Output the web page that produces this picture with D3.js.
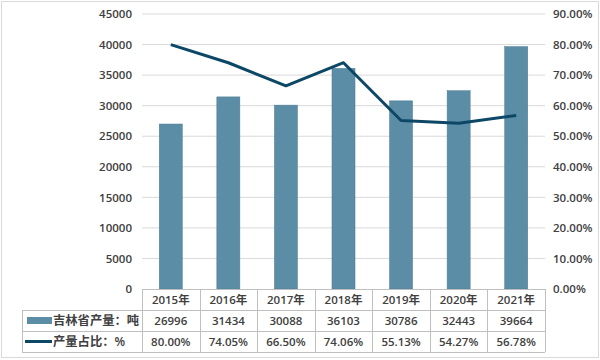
<!DOCTYPE html>
<html><head><meta charset="utf-8">
<script src="https://cdn.jsdelivr.net/npm/d3@7"></script>
<style>body{margin:0;background:#fff}svg{display:block}</style>
</head><body><svg id="c" width="600" height="360"></svg>
<script>
const years = ["2015年","2016年","2017年","2018年","2019年","2020年","2021年"];
const output = [26996,31434,30088,36103,30786,32443,39664];
const share = [80.00,74.05,66.50,74.06,55.13,54.27,56.78];
const leftTicks = [0,5000,10000,15000,20000,25000,30000,35000,40000,45000];
const rightTicks = [0,10,20,30,40,50,60,70,80,90];
const barName = "吉林省产量：吨", lineName = "产量占比：%";

const svg = d3.select("#c");
const L = 142, R = 545, T = 14, B = 289;
const font = "'Open Sans','Noto Sans CJK SC',sans-serif";
const txt = "#404040";
const barColor = "#5b8ea6", lineColor = "#0d4766";

svg.append("rect").attr("x",1.5).attr("y",1.5).attr("width",597).attr("height",356)
  .attr("fill","#fff").attr("stroke","#d9d9d9");

const x = d3.scaleBand().domain(years).range([L,R]).paddingInner(0.6).paddingOuter(0.3);
const xc = d3.scaleBand().domain(years).range([L,R]);
const y = d3.scaleLinear().domain([0,45000]).range([B,T]);
const y2 = d3.scaleLinear().domain([0,90]).range([B,T]);

// grid
svg.append("g").selectAll("line").data(leftTicks.slice(1)).join("line")
  .attr("x1",L).attr("x2",R).attr("y1",d=>y(d)).attr("y2",d=>y(d))
  .attr("stroke","#d9d9d9").attr("stroke-width",1);

// axes
const ga = svg.append("g").attr("transform",`translate(${L-10},0)`)
  .call(d3.axisLeft(y).tickValues(leftTicks).tickSize(0).tickPadding(0).tickFormat(d3.format("d")));
ga.select(".domain").remove();
ga.selectAll("text").attr("font-family",font).attr("font-size",11.5).attr("font-weight",600).attr("fill",txt);

const gb = svg.append("g").attr("transform",`translate(${R+8},0)`)
  .call(d3.axisRight(y2).tickValues(rightTicks).tickSize(0).tickPadding(0).tickFormat(d=>d.toFixed(2)+"%"));
gb.select(".domain").remove();
gb.selectAll("text").attr("font-family",font).attr("font-size",11.5).attr("font-weight",600).attr("fill",txt);

// bars
svg.append("g").selectAll("rect").data(output).join("rect")
  .attr("x",(d,i)=>x(years[i])).attr("width",x.bandwidth())
  .attr("y",d=>y(d)).attr("height",d=>B-y(d))
  .attr("fill",barColor).attr("stroke","#4a7a91").attr("stroke-width",0.5);

// line
svg.append("path").datum(share)
  .attr("d",d3.line().x((d,i)=>xc(years[i])+xc.bandwidth()/2).y(d=>y2(d)))
  .attr("fill","none").attr("stroke",lineColor).attr("stroke-width",3).attr("stroke-linejoin","round");

// table
const rows = [B, 310, 331, 352];
const tL = 22;
const tg = svg.append("g").attr("stroke","#bfbfbf").attr("stroke-width",1).attr("fill","none");
tg.append("line").attr("x1",L).attr("x2",R).attr("y1",rows[0]+0.5).attr("y2",rows[0]+0.5);
[1,2,3].forEach(k=>tg.append("line").attr("x1",tL).attr("x2",R).attr("y1",rows[k]+0.5).attr("y2",rows[k]+0.5));
tg.append("line").attr("x1",tL+0.5).attr("x2",tL+0.5).attr("y1",rows[1]).attr("y2",rows[3]);
years.forEach(yr=>{
  const xx = Math.round(xc(yr))+0.5;
  tg.append("line").attr("x1",xx).attr("x2",xx).attr("y1",rows[0]).attr("y2",rows[3]);
});
tg.append("line").attr("x1",R+0.5).attr("x2",R+0.5).attr("y1",rows[0]).attr("y2",rows[3]);

const cellText = (xx,yy,t,anchor,fs)=>svg.append("text").attr("x",xx).attr("y",yy)
  .attr("text-anchor",anchor||"middle").attr("dominant-baseline","central")
  .attr("font-family",font).attr("font-size",fs||11.5).attr("font-weight",600).attr("fill",txt).text(t);

years.forEach((yr,i)=>{
  const cx = xc(yr)+xc.bandwidth()/2;
  cellText(cx,(rows[0]+rows[1])/2,yr);
  cellText(cx,(rows[1]+rows[2])/2,output[i]);
  cellText(cx,(rows[2]+rows[3])/2,share[i].toFixed(2)+"%");
});
// legend keys
svg.append("rect").attr("x",27).attr("y",(rows[1]+rows[2])/2-3.5).attr("width",25).attr("height",7).attr("fill",barColor);
cellText(53,(rows[1]+rows[2])/2,barName,"start",12.3);
svg.append("line").attr("x1",25).attr("x2",52).attr("y1",(rows[2]+rows[3])/2).attr("y2",(rows[2]+rows[3])/2)
  .attr("stroke",lineColor).attr("stroke-width",3);
cellText(53,(rows[2]+rows[3])/2,lineName,"start",12.3);
</script></body></html>
